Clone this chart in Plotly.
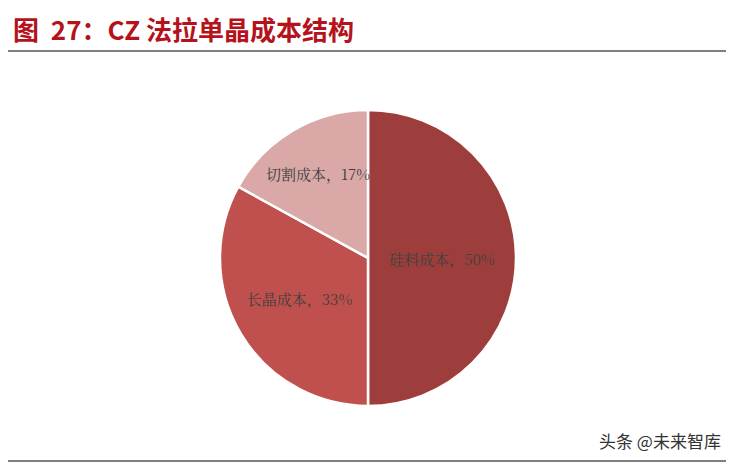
import plotly.graph_objects as go

labels = ["硅料成本", "长晶成本", "切割成本"]
values = [50, 33, 17]
colors = ["#9E3E3C", "#C0504D", "#D9A8A7"]

# page body has an 8px margin, so the figure is laid out in a 726x456 box
OFF = 8
W, H = 734 - OFF, 464 - OFF
cx, cy, r = 368 - OFF, 258 - OFF, 148

def px(x):
    return (x - OFF) / W

def py(y):
    return 1 - (y - OFF) / H

fig = go.Figure(go.Pie(
    labels=labels,
    values=values,
    sort=False,
    direction="clockwise",
    rotation=0,
    marker=dict(colors=colors, line=dict(color="white", width=2.5)),
    texttemplate="%{label}，%{value}%",
    textposition="inside",
    insidetextorientation="horizontal",
    textfont=dict(family="Noto Serif CJK SC, Noto Sans CJK SC", size=15, color="#404040"),
    hoverinfo="skip",
    showlegend=False,
    domain=dict(x=[(cx - r) / W, (cx + r) / W], y=[1 - (cy + r) / H, 1 - (cy - r) / H]),
))

fig.update_layout(
    width=W, height=H,
    margin=dict(l=0, r=0, t=0, b=0),
    paper_bgcolor="white",
    plot_bgcolor="white",
    uniformtext=dict(minsize=15, mode="show"),
    annotations=[
        dict(text="<b>图  27：CZ 法拉单晶成本结构</b>", x=px(11), y=py(28),
             xref="paper", yref="paper", xanchor="left", yanchor="middle",
             showarrow=False, font=dict(family="Noto Sans CJK SC", size=26, color="#B5121B")),
        dict(text="头条 @未来智库", x=px(723), y=py(440),
             xref="paper", yref="paper", xanchor="right", yanchor="middle",
             showarrow=False, font=dict(family="Noto Sans CJK SC", size=17, color="#333333")),
    ],
    shapes=[
        dict(type="line", xref="paper", yref="paper", x0=0, x1=1, y0=py(51), y1=py(51),
             line=dict(color="#555555", width=1.5)),
        dict(type="line", xref="paper", yref="paper", x0=0, x1=1, y0=py(461), y1=py(461),
             line=dict(color="#555555", width=1.5)),
    ],
)

fig.write_html("out.html")
